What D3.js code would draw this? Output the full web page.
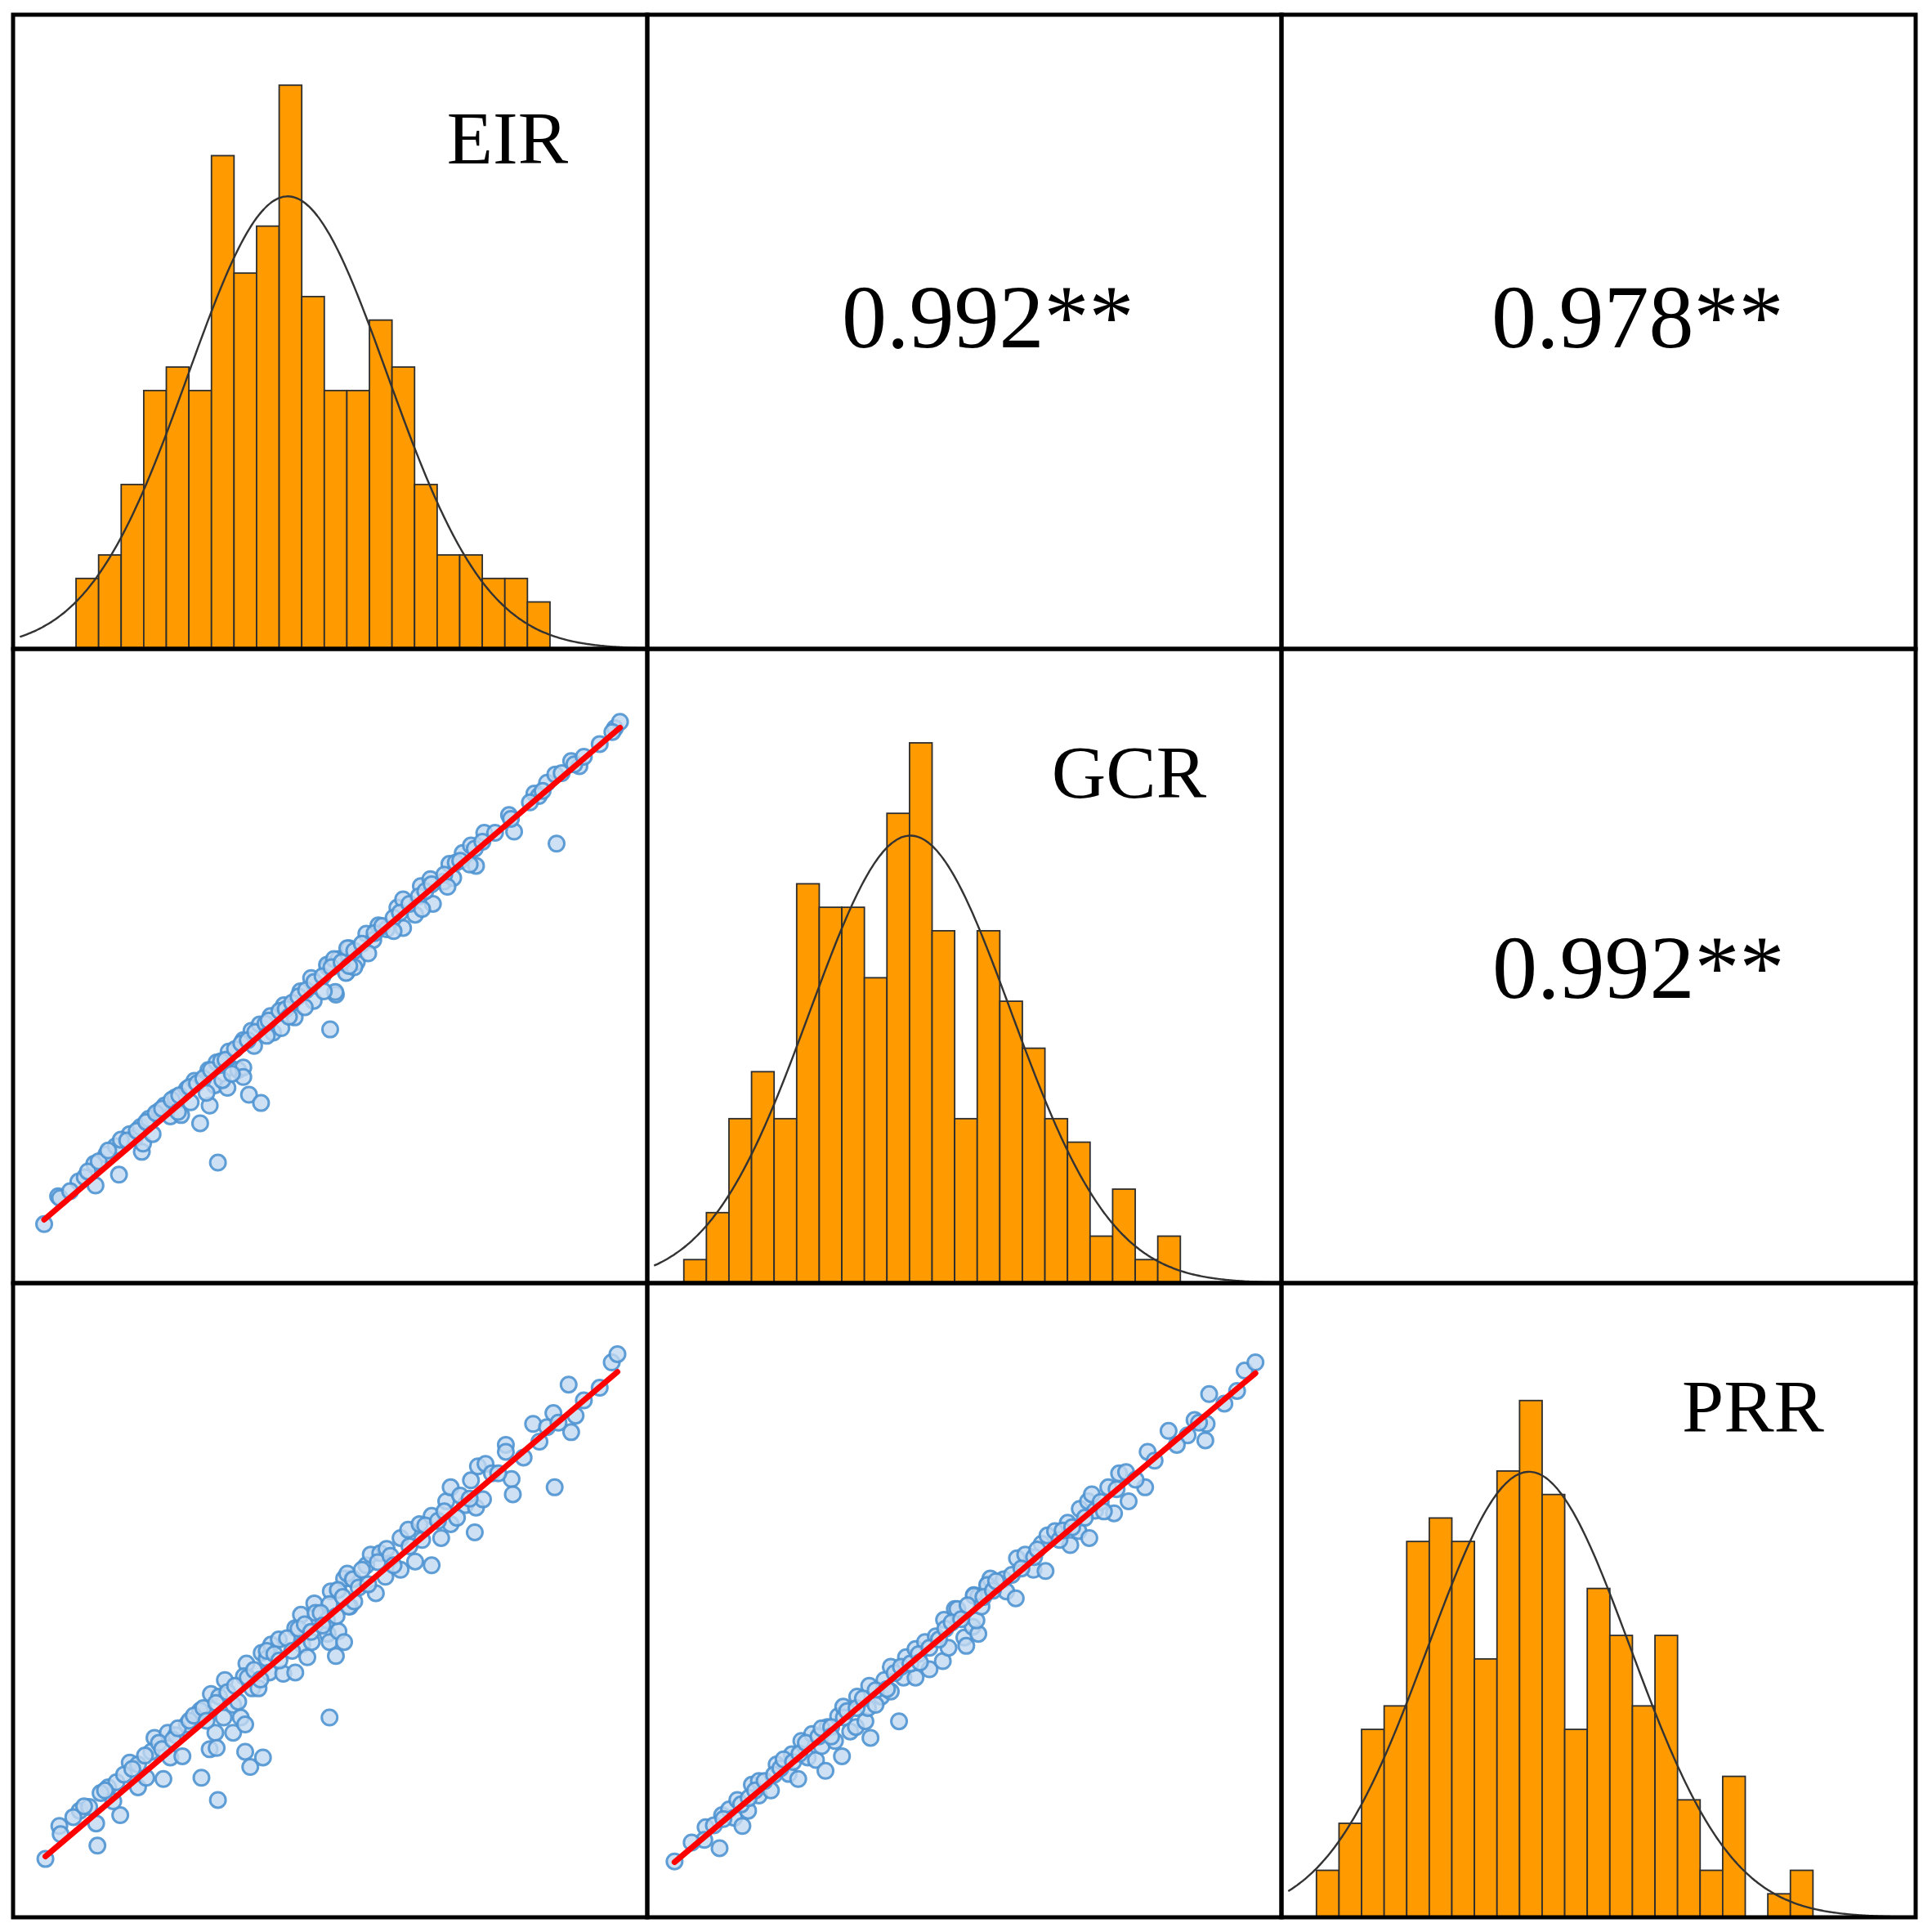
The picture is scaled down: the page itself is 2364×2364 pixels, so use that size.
<!DOCTYPE html>
<html lang="en">
  <head>
    <meta charset="utf-8">
    <title>EIR / GCR / PRR scatter matrix</title>
    <script src="https://cdn.jsdelivr.net/npm/d3@7"></script>
    <style>
      html, body { margin: 0; padding: 0; background: #fff; }
      svg { display: block; }
    </style>
  </head>
  <body>
    <div id="chart"></div>
  <script>
    // variable names on the diagonal
    var varNames = ["EIR", "GCR", "PRR"];

    // histogram counts per bin
    var eirCounts = [3, 4, 7, 11, 12, 11, 21, 16, 18, 24, 15, 11, 11, 14, 12, 7, 4, 4, 3, 3, 2];
    var gcrCounts = [1, 3, 7, 9, 7, 17, 16, 16, 13, 20, 23, 15, 7, 15, 12, 10, 7, 6, 2, 4, 1, 2];
    var prrCounts = [2, 4, 8, 9, 16, 17, 16, 11, 19, 22, 18, 8, 14, 12, 9, 12, 5, 2, 6, 0, 1, 2];

    // first bin edge, fitted mean and sd, in bin units
    var binStart = [2.79, 1.62, 1.55];
    var fitMean = [12.17, 11.66, 10.97];
    var fitSd = [4.41, 4.46, 4.48];

    // correlation coefficients, upper triangle: (EIR,GCR), (EIR,PRR), (GCR,PRR)
    var corrLabels = ["0.992**", "0.978**", "0.992**"];

    // scatter points, both axes as 0-100 index of the panel range
    var eirGcr = [
      [4.9,9.3],[7.1,13.7],[7.4,13.4],[10.3,16.0],[11.3,16.7],[13.0,15.4],[12.8,18.8],[14.7,20.3],[16.7,17.1],[16.2,21.6],
      [18.4,23.5],[19.2,22.9],[20.3,20.7],[20.1,24.6],[21.4,25.9],[23.1,27.2],[23.9,28.0],[24.8,26.3],[25.6,29.3],[26.5,26.5],
      [27.4,30.6],[29.5,25.2],[28.6,31.9],[30.8,33.6],[31.0,28.0],[31.8,31.2],[32.1,34.8],[33.8,30.8],[34.0,36.5],[34.2,34.0],
      [35.5,33.6],[36.3,34.0],[36.3,32.5],[37.2,29.7],[39.1,28.4],[32.3,19.0],[36.3,38.3],[37.6,39.8],[38.0,37.4],[38.9,40.8],
      [40.6,42.1],[41.0,39.5],[42.3,40.2],[42.7,43.8],[44.4,41.9],[45.3,46.0],[47.0,48.1],[47.4,44.5],[50.0,40.0],[50.9,45.5],
      [49.6,49.8],[51.3,51.1],[52.6,49.0],[53.0,52.8],
      [49.5,50.2],[50.8,45.9],[50.6,51.1],[52.5,48.9],[52.7,52.8],[54.2,50.6],[53.8,49.8],[55.7,55.1],[56.8,54.1],[57.6,56.4],
      [58.9,55.8],[61.5,56.0],[60.6,59.2],[61.5,60.5],[63.4,58.1],[64.3,62.6],[65.8,63.7],[66.2,59.8],[67.9,63.3],[68.8,66.1],
      [69.4,63.9],[70.9,67.8],[72.2,69.0],[73.0,65.8],[74.3,71.0],[78.2,73.8],[79.0,71.2],[82.2,77.2],[82.9,76.8],[84.2,78.9],
      [85.5,80.2],[85.7,69.3],[88.0,82.3],[89.3,81.5],[94.9,87.5],[95.7,88.5],
      [9.0,14.5],[11.8,17.6],[13.5,19.2],[15.0,20.9],[17.0,22.6],[18.0,22.5],[19.5,24.0],[21.0,25.4],[22.5,26.8],[23.5,27.5],
      [25.0,28.9],[26.2,29.6],[27.8,30.9],[29.0,31.5],[30.0,32.3],[31.2,33.6],[32.8,35.0],[33.5,35.2],[35.0,36.9],[36.0,37.8],
      [37.0,38.3],[38.2,39.6],[39.8,40.9],[40.3,41.4],[42.0,42.9],[43.0,43.2],[44.0,44.2],[45.0,45.2],[46.2,46.2],[47.5,47.5],
      [48.8,48.4],[50.2,49.8],[51.8,50.6],[53.8,52.4],[55.0,53.5],[57.0,55.2],[58.2,56.3],[60.0,57.6],[61.0,58.4],[62.5,59.8],
      [64.0,61.0],[65.0,61.8],[66.0,62.9],[68.0,64.4],[69.8,66.3],[70.5,66.6],[72.8,68.5],[74.0,69.6],[76.0,71.0],[78.5,73.2],
      [81.5,75.8],[83.5,77.6],[86.5,80.4],[88.5,81.8],[90.0,83.0],[92.5,85.0],[94.5,86.9],
      [20.5,22.0],[22.0,23.5],[26.0,27.0],[28.0,28.5],[30.5,30.0],[33.0,32.0],[34.5,33.0],[40.0,39.0],[43.5,42.0],[46.0,43.5],
      [49.0,46.0],[53.0,50.0],[56.0,52.0],[60.0,55.5],[64.5,59.0],[68.5,62.5],[72.0,66.0]
    ];

    var eirPrr = [
      [5.1,9.2],[7.3,14.4],[7.5,13.1],[10.5,16.8],[12.0,17.4],[13.1,14.8],[13.3,11.3],[15.0,20.5],[16.3,21.3],[16.9,16.1],
      [15.8,18.3],[18.4,24.4],[19.7,24.1],[19.7,20.5],[21.0,22.0],[22.3,28.3],[21.8,26.1],[23.7,21.8],[24.4,29.1],[24.8,25.2],
      [25.7,28.7],[26.7,25.4],[27.4,30.4],[29.5,32.6],[29.7,22.0],[31.0,26.5],[31.2,35.2],[31.9,29.1],[32.1,26.7],[32.5,34.8],
      [32.3,18.5],[33.2,31.5],[33.4,37.4],[34.7,33.5],[34.7,29.1],[35.9,31.5],[36.6,30.4],[36.6,26.1],[37.4,23.7],[39.4,25.2],
      [36.8,40.0],[36.4,38.0],[37.7,36.1],[38.7,36.1],[39.2,41.7],[40.0,40.8],[40.7,43.0],[40.4,38.6],[41.9,43.8],[42.6,38.4],
      [44.5,38.6],[44.5,45.6],[45.4,47.7],[45.6,43.0],[46.4,41.0],[47.1,43.4],[47.5,49.5],[47.7,48.0],[49.9,31.5],[49.6,44.7],
      [49.9,43.4],[50.9,41.2],[51.3,45.1],[52.2,43.4],[50.1,51.4],[51.3,51.6],[53.1,49.0],[52.2,53.4],[53.5,53.4],
      [49.5,46.8],[49.9,49.4],[51.2,51.6],[52.9,49.0],[53.8,49.8],[52.7,54.2],[53.6,53.3],[55.7,55.5],[56.4,57.2],[57.2,51.1],
      [57.9,57.4],[58.9,58.1],[58.7,53.7],[61.1,54.8],[61.1,59.8],[62.3,61.1],[63.4,56.1],[64.1,62.0],[66.0,55.5],[66.0,63.3],
      [67.5,59.8],[68.3,65.6],[69.0,67.8],[69.0,62.0],[71.3,65.0],[72.2,68.9],[72.8,60.7],[73.0,64.6],[74.1,65.9],[73.3,71.1],
      [74.5,71.5],[77.7,74.5],[77.7,73.4],[78.6,69.1],[78.8,66.7],[82.0,77.8],[84.2,77.3],[85.2,79.5],[85.4,67.8],[87.6,84.0],
      [88.0,76.5],[88.7,79.1],[94.4,87.5],[95.3,88.8],
      [9.5,15.8],[11.2,17.5],[13.8,19.6],[14.5,20.0],[17.5,22.5],[18.8,23.4],[20.8,25.5],[23.0,27.5],[23.5,26.5],[25.2,28.0],
      [26.0,29.8],[27.8,31.0],[28.5,31.8],[30.0,33.0],[30.5,31.0],[32.0,33.8],[33.8,35.5],[35.0,36.5],[35.5,34.0],[37.0,37.8],
      [38.0,39.0],[39.0,37.5],[40.0,42.0],[41.2,41.5],[42.0,40.5],[43.2,44.0],[44.0,42.0],[45.0,45.5],[46.0,46.2],[47.0,45.0],
      [48.5,48.0],[48.8,46.0],[51.0,47.5],[52.0,50.5],[54.5,52.0],[55.0,54.8],[56.0,52.5],[57.5,56.0],[59.5,57.0],[60.0,55.5],
      [62.5,58.5],[64.5,59.5],[65.0,61.8],[67.0,62.5],[68.0,64.0],[70.0,63.0],[70.5,66.5],[72.0,66.0],[75.5,70.0],[76.5,70.0],
      [80.5,72.5],[83.0,75.0],[86.0,78.0],[90.0,81.5],[92.5,83.5]
    ];

    var gcrPrr = [
      [4.3,8.8],[9.2,14.2],[9.0,12.2],[11.4,10.9],[11.8,16.1],[12.9,17.0],[13.7,15.7],[14.2,18.5],[15.0,14.4],[15.9,16.8],
      [16.5,20.9],[17.6,21.5],[17.6,19.2],[19.5,20.0],[20.4,24.1],[22.3,22.6],[22.8,25.7],[23.8,21.8],[24.3,27.8],[25.3,25.2],
      [26.0,28.9],[26.6,24.8],[27.5,27.0],[28.1,23.1],[28.4,30.0],[29.6,27.8],[30.1,31.7],[30.7,25.4],[30.9,33.2],[32.0,29.3],
      [32.9,30.0],[33.1,34.8],[34.4,30.9],[34.8,33.0],[35.0,36.5],[35.2,28.3],[36.9,34.8],[37.4,37.4],[38.4,35.6],[38.4,39.5],
      [39.7,30.9],[40.4,37.8],[40.8,41.0],[42.3,37.8],[42.3,42.3],[43.8,43.4],[44.5,39.1],[45.5,44.3],[46.6,40.4],[46.8,46.9],
      [47.5,42.5],[48.5,48.6],[50.0,44.1],[50.3,42.8],[51.3,45.8],[52.2,44.7],[51.5,50.8],[52.2,50.6],[53.7,52.5],[54.1,53.4],
      [48.9,48.6],[51.5,50.7],[51.9,46.8],[53.6,52.4],[52.7,49.0],[56.2,53.3],[56.6,51.4],[58.1,50.3],[58.3,56.6],[59.6,57.2],
      [60.9,54.8],[62.8,54.6],[62.2,58.9],[63.1,60.2],[64.3,60.9],[66.3,62.2],[66.7,58.7],[68.0,60.9],[68.2,64.4],[69.7,59.8],
      [69.5,65.6],[70.1,66.7],[70.6,64.1],[72.7,67.8],[73.6,63.7],[74.4,70.0],[75.5,70.2],[75.9,65.6],[78.5,67.8],[78.9,73.4],
      [82.2,76.7],[85.2,76.0],[86.3,78.4],[88.2,77.8],[88.0,75.2],[88.6,82.5],[94.2,86.2],[95.9,87.5],
      [7.0,11.8],[10.5,14.5],[12.0,15.5],[14.8,17.8],[16.0,18.8],[17.0,20.0],[18.5,21.5],[20.0,22.5],[21.0,23.5],[21.5,24.9],
      [23.0,24.5],[24.0,25.8],[25.0,27.5],[27.0,28.5],[27.5,29.8],[29.0,30.0],[29.0,28.5],[31.0,31.5],[31.5,32.5],[33.0,33.0],
      [34.0,34.5],[36.0,35.8],[36.0,33.5],[37.8,36.0],[39.0,38.5],[40.0,39.5],[41.5,40.0],[42.8,41.5],[43.0,40.2],[44.5,42.5],
      [46.0,43.8],[47.0,45.5],[48.0,46.5],[49.5,47.0],[50.5,49.2],[53.0,50.5],[54.5,51.5],[55.0,53.0],[57.5,54.0],[59.0,55.0],
      [61.0,56.8],[61.5,58.0],[65.0,59.5],[65.5,61.0],[67.0,61.5],[69.0,63.0],[71.5,65.5],[72.0,64.0],[74.0,67.5],[77.0,69.0],
      [80.0,72.0],[83.5,74.5],[87.0,78.0],[91.0,81.0],[93.0,83.0]
    ];

    // fitted lines [intercept, slope] for each scatter
    var fitLines = [[5.81, 0.8545], [5.28, 0.847], [5.08, 0.8417]];

    var W = 2364, H = 2364;
    var left0 = 16, top0 = 18, cell = 776;
    var labelRight = [97, 92, 112];   // gap between label end and cell edge

    var svg = d3.select("#chart").append("svg")
        .attr("width", W)
        .attr("height", H);

    svg.append("rect").attr("width", W).attr("height", H).attr("fill", "#fff");

    function cellX(c) { return left0 + c * cell; }
    function cellY(r) { return top0 + r * cell; }

    // ---------- diagonal histograms ----------
    var hists = [eirCounts, gcrCounts, prrCounts];

    hists.forEach(function(counts, i) {
      var x0 = cellX(i), y0 = cellY(i);
      var g = svg.append("g");

      var x = d3.scaleLinear().domain([0, 28.1]).range([x0, x0 + cell]);
      var y = d3.scaleLinear().domain([0, 27]).range([y0 + cell, y0]);

      g.selectAll("rect.bar")
          .data(counts)
          .enter()
          .append("rect")
            .attr("class", "bar")
            .attr("x", function(d, k) { return x(binStart[i] + k); })
            .attr("width", function(d, k) { return x(binStart[i] + k + 1) - x(binStart[i] + k); })
            .attr("y", function(d) { return y(d); })
            .attr("height", function(d) { return y(0) - y(d); })
            .attr("fill", "#ff9a00")
            .attr("stroke", "#2e2e2e")
            .attr("stroke-width", 1.8);

      // normal curve scaled to counts
      var n = d3.sum(counts);
      var m = fitMean[i], s = fitSd[i];
      var xs = d3.range(0.3, 28.1, 0.1);
      var line = d3.line()
          .x(function(v) { return x(v); })
          .y(function(v) {
            var z = (v - m) / s;
            return y(n / (s * Math.sqrt(2 * Math.PI)) * Math.exp(-0.5 * z * z));
          })
          .curve(d3.curveBasis);

      g.append("path")
          .datum(xs)
          .attr("d", line)
          .attr("fill", "none")
          .attr("stroke", "#333")
          .attr("stroke-width", 2.4);

      g.append("text")
          .attr("x", x0 + cell - labelRight[i])
          .attr("y", y0 + 182)
          .attr("text-anchor", "end")
          .attr("font-family", "'Liberation Serif', 'Times New Roman', serif")
          .attr("font-size", 92)
          .text(varNames[i]);
    });

    // ---------- lower triangle scatters ----------
    var scatters = [
      {r: 1, c: 0, pts: eirGcr, fit: fitLines[0]},
      {r: 2, c: 0, pts: eirPrr, fit: fitLines[1]},
      {r: 2, c: 1, pts: gcrPrr, fit: fitLines[2]}
    ];

    scatters.forEach(function(sc) {
      var x0 = cellX(sc.c), y0 = cellY(sc.r);
      var g = svg.append("g");
      var x = d3.scaleLinear().domain([0, 100]).range([x0, x0 + cell]);
      var y = d3.scaleLinear().domain([0, 100]).range([y0 + cell, y0]);

      g.selectAll("circle")
          .data(sc.pts)
          .enter()
          .append("circle")
            .attr("cx", function(d) { return x(d[0]); })
            .attr("cy", function(d) { return y(d[1]); })
            .attr("r", 9.5)
            .attr("fill", "#c2d8f0")
            .attr("fill-opacity", 0.8)
            .attr("stroke", "#4f93d2")
            .attr("stroke-opacity", 0.9)
            .attr("stroke-width", 3);

      var ext = d3.extent(sc.pts, function(d) { return d[0]; });
      var a = sc.fit[0], b = sc.fit[1];
      g.append("line")
          .attr("x1", x(ext[0])).attr("y1", y(a + b * ext[0]))
          .attr("x2", x(ext[1])).attr("y2", y(a + b * ext[1]))
          .attr("stroke", "#ff0000")
          .attr("stroke-width", 7)
          .attr("stroke-linecap", "round");
    });

    // ---------- upper triangle correlations ----------
    var corrCells = [
      {r: 0, c: 1, dx: 238, dy: 407},
      {r: 0, c: 2, dx: 257, dy: 407},
      {r: 1, c: 2, dx: 258, dy: 427}
    ];

    corrCells.forEach(function(cc, i) {
      svg.append("text")
          .attr("x", cellX(cc.c) + cc.dx)
          .attr("y", cellY(cc.r) + cc.dy)
          .attr("font-family", "'Liberation Serif', 'Times New Roman', serif")
          .attr("font-size", 110)
          .text(corrLabels[i]);
    });

    // ---------- grid frame ----------
    for (var r = 0; r < 3; r++) {
      for (var c = 0; c < 3; c++) {
        svg.append("rect")
            .attr("x", cellX(c))
            .attr("y", cellY(r))
            .attr("width", cell)
            .attr("height", cell)
            .attr("fill", "none")
            .attr("stroke", "#000")
            .attr("stroke-width", 5);
      }
    }
  </script>
  </body>
</html>
